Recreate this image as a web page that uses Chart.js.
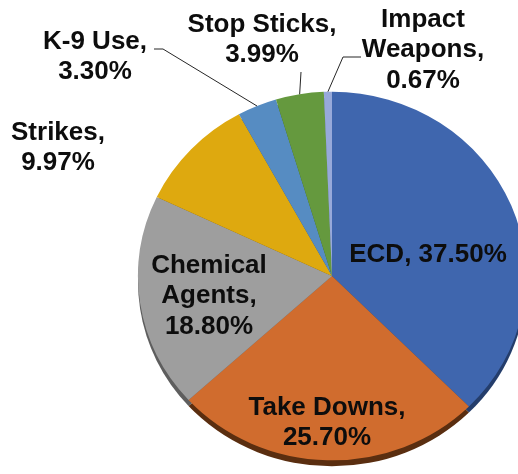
<!DOCTYPE html>
<html>
<head>
<meta charset="utf-8">
<script src="https://cdn.jsdelivr.net/npm/chart.js@4.4.1/dist/chart.umd.min.js"></script>
<style>
  html, body { margin: 0; padding: 0; background: #fff; overflow: hidden; }
  #wrap { position: absolute; left: 0; top: 0; width: 664px; height: 552px; }
</style>
</head>
<body>
<div id="wrap"><canvas id="pie-chart"></canvas></div>
<script>
// data
const categories = ['ECD', 'Take Downs', 'Chemical Agents', 'Strikes', 'K-9 Use', 'Stop Sticks', 'Impact Weapons'];
const percents = [37.50, 25.70, 18.80, 9.97, 3.30, 3.99, 0.67];
const percentText = ['37.50%', '25.70%', '18.80%', '9.97%', '3.30%', '3.99%', '0.67%'];
// how each data label wraps
const labelLines = [
  ['ECD, 37.50%'],
  ['Take Downs,', '25.70%'],
  ['Chemical', 'Agents,', '18.80%'],
  ['Strikes,', '9.97%'],
  ['K-9 Use,', '3.30%'],
  ['Stop Sticks,', '3.99%'],
  ['Impact', 'Weapons,', '0.67%']
];

const colors = ['#3f66ae', '#d06c2e', '#9e9e9e', '#dea90f', '#568cc2', '#65993e', '#97a9da'];
const rimColors = ['#243d6b', '#5a2e10', '#5e5e5e', '#7a5c06', '#2f5478', '#3a5c22', '#5b6a90'];

const tilt = 0.95;      // slight 3D look: pie squashed vertically
const rimDepth = 6;

// label anchor offsets from pie centre (px), leader points relative to the label anchor
const labelPlace = [
  { dx: 96, dy: -21 },
  { dx: -5, dy: 147 },
  { dx: -123, dy: 20 },
  { dx: -274, dy: -128 },
  { dx: -237, dy: -219, leader: [[59, -8], [68, -8]] },
  { dx: -70, dy: -236, leader: [[39, 32]] },
  { dx: 91, dy: -226, leader: [[-62, 7], [-80, 7]] }
];

const pieLook = {
  id: 'pieLook',
  beforeDatasetsDraw(chart) {
    const ctx = chart.ctx;
    const arcs = chart.getDatasetMeta(0).data;
    const cx = arcs[0].x, cy = arcs[0].y;
    // rim underneath
    ctx.save();
    ctx.translate(cx, cy + rimDepth);
    ctx.scale(1, tilt);
    ctx.translate(-cx, -cy);
    arcs.forEach((a, i) => {
      ctx.beginPath();
      ctx.moveTo(a.x, a.y);
      ctx.arc(a.x, a.y, a.outerRadius, a.startAngle, a.endAngle);
      ctx.closePath();
      ctx.fillStyle = rimColors[i];
      ctx.fill();
    });
    ctx.restore();
    // squash the face
    ctx.save();
    ctx.translate(cx, cy);
    ctx.scale(1, tilt);
    ctx.translate(-cx, -cy);
  },
  afterDatasetsDraw(chart) {
    const ctx = chart.ctx;
    ctx.restore();
    const arcs = chart.getDatasetMeta(0).data;
    const cx = arcs[0].x, cy = arcs[0].y;
    ctx.save();
    ctx.font = 'bold 26px "Liberation Sans", Arial, sans-serif';
    ctx.textAlign = 'center';
    ctx.textBaseline = 'middle';
    ctx.fillStyle = '#0d0d0d';
    const lh = 30.5;
    arcs.forEach((a, i) => {
      const p = labelPlace[i];
      const lx = cx + p.dx, ly = cy + p.dy;
      const lines = labelLines[i];
      lines.forEach((t, k) => {
        ctx.fillText(t, lx, ly + (k - (lines.length - 1) / 2) * lh);
      });
      if (p.leader) {
        const mid = (a.startAngle + a.endAngle) / 2;
        const ex = a.x + Math.cos(mid) * a.outerRadius;
        const ey = a.y + Math.sin(mid) * a.outerRadius * tilt;
        ctx.beginPath();
        ctx.strokeStyle = '#262626';
        ctx.lineWidth = 1;
        p.leader.forEach((q, k) => {
          if (k === 0) ctx.moveTo(lx + q[0], ly + q[1]);
          else ctx.lineTo(lx + q[0], ly + q[1]);
        });
        ctx.lineTo(ex, ey);
        ctx.stroke();
      }
    });
    ctx.restore();
  }
};

new Chart(document.getElementById('pie-chart'), {
  type: 'pie',
  data: {
    labels: categories,
    datasets: [{
      data: percents,
      backgroundColor: colors,
      borderWidth: 0,
      radius: 194
    }]
  },
  options: {
    responsive: true,
    maintainAspectRatio: false,
    animation: false,
    layout: { padding: 0 },
    plugins: {
      legend: { display: false },
      tooltip: { enabled: false }
    }
  },
  plugins: [pieLook]
});
</script>
</body>
</html>
